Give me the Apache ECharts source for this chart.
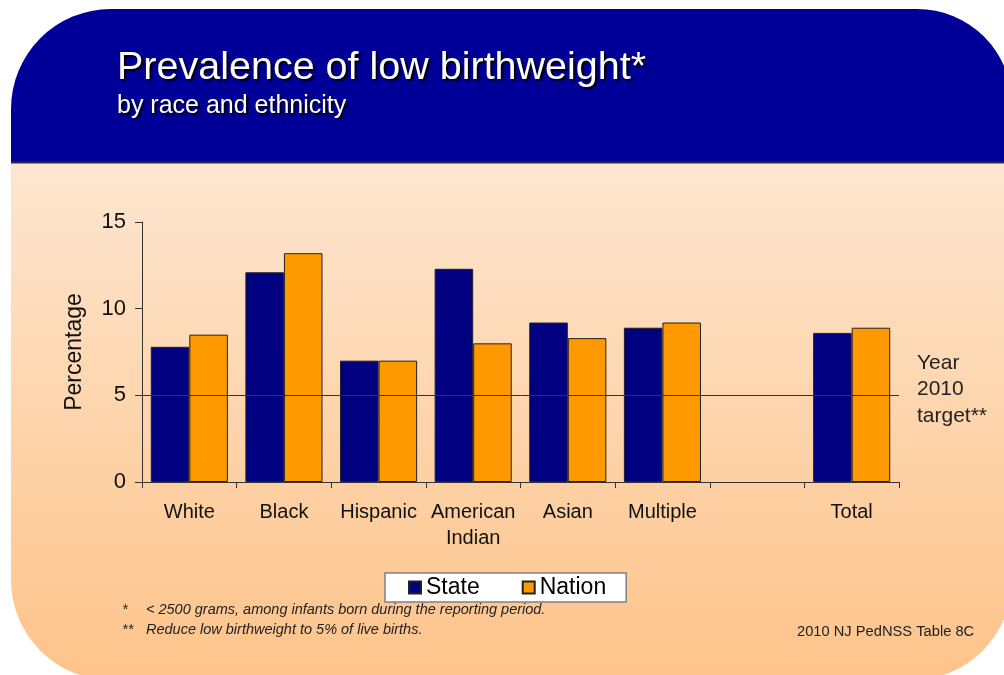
<!DOCTYPE html>
<html>
<head>
<meta charset="utf-8">
<script src="https://cdn.jsdelivr.net/npm/echarts@6/dist/echarts.min.js"></script>
<style>
  html, body { margin: 0; padding: 0; background: #ffffff; }
  #chart { width: 1004px; height: 675px; }
</style>
</head>
<body>
<div id="chart"></div>
<script>
// Low birthweight prevalence (%), by race and ethnicity
const categories = ['White', 'Black', 'Hispanic', 'American\nIndian', 'Asian', 'Multiple', '', 'Total'];
const stateValues = [7.8, 12.1, 7.0, 12.3, 9.2, 8.9, null, 8.6];
const nationValues = [8.5, 13.2, 7.0, 8.0, 8.3, 9.2, null, 8.9];
const targetValue = 5;
const yTicks = [0, 5, 10, 15];

const FONT = '"Liberation Sans", Arial, sans-serif';
const chart = echarts.init(document.getElementById('chart'), null, { renderer: 'canvas' });

chart.setOption({
  backgroundColor: '#ffffff',
  animation: false,
  textStyle: { fontFamily: FONT },
  graphic: [
    // slide body with warm gradient
    {
      type: 'rect', z: -10,
      shape: { x: 11, y: 9, width: 1001, height: 671, r: [100, 95, 100, 100] },
      style: {
        fill: new echarts.graphic.LinearGradient(0, 0, 0, 1, [
          { offset: 0, color: '#fde8d6' },
          { offset: 0.24, color: '#fde6d0' },
          { offset: 0.6, color: '#fdd5ad' },
          { offset: 1, color: '#fec38a' }
        ])
      }
    },
    // header band
    {
      type: 'rect', z: -9,
      shape: { x: 11, y: 9, width: 1001, height: 153, r: [100, 95, 0, 0] },
      style: { fill: '#000099' }
    },
    {
      type: 'line', z: -8,
      shape: { x1: 11, y1: 162.5, x2: 1004, y2: 162.5 },
      style: { stroke: '#2a2a50', lineWidth: 2 }
    },
    // footnotes
    {
      type: 'text', left: 122, top: 602,
      style: { text: '*', font: 'italic 14.5px ' + FONT, fill: '#222' }
    },
    {
      type: 'text', left: 146, top: 602,
      style: { text: '< 2500 grams, among infants born during the reporting period.', font: 'italic 14.5px ' + FONT, fill: '#222' }
    },
    {
      type: 'text', left: 122, top: 622,
      style: { text: '**', font: 'italic 14.5px ' + FONT, fill: '#222' }
    },
    {
      type: 'text', left: 146, top: 622,
      style: { text: 'Reduce low birthweight to 5% of live births.', font: 'italic 14.5px ' + FONT, fill: '#222' }
    },
    {
      type: 'text', left: 797, top: 624,
      style: { text: '2010 NJ PedNSS Table 8C', font: '14.7px ' + FONT, fill: '#222' }
    }
  ],
  title: {
    text: 'Prevalence of low birthweight*',
    subtext: 'by race and ethnicity',
    left: 112, top: 43,
    itemGap: 6,
    textStyle: {
      color: '#ffffff', fontSize: 39.5, fontWeight: 'normal', fontFamily: FONT,
      textShadowColor: '#000000', textShadowOffsetX: 2, textShadowOffsetY: 2, textShadowBlur: 2
    },
    subtextStyle: {
      color: '#ffffff', fontSize: 25, fontFamily: FONT,
      textShadowColor: '#000000', textShadowOffsetX: 2, textShadowOffsetY: 2, textShadowBlur: 2
    }
  },
  legend: {
    left: 385, top: 573,
    padding: [3, 20, 3, 23],
    itemGap: 42,
    itemWidth: 12, itemHeight: 12,
    icon: 'rect',
    backgroundColor: '#ffffff',
    borderColor: '#808080', borderWidth: 1.5,
    textStyle: { fontSize: 23, color: '#000', fontFamily: FONT },
    data: ['State', 'Nation']
  },
  grid: { left: 142, right: 105, top: 222, bottom: 193, containLabel: false },
  xAxis: {
    type: 'category',
    data: categories,
    axisLine: { lineStyle: { color: '#333', width: 1 } },
    axisTick: { show: true, length: 6, lineStyle: { color: '#333' } },
    axisLabel: { fontSize: 20, color: '#111', margin: 17, lineHeight: 26, interval: 0, fontFamily: FONT }
  },
  yAxis: {
    type: 'value',
    min: yTicks[0], max: yTicks[yTicks.length - 1], interval: 5,
    name: 'Percentage',
    nameLocation: 'middle',
    nameGap: 56,
    nameTextStyle: { fontSize: 23, color: '#111', fontFamily: FONT },
    splitLine: { show: false },
    axisLine: { show: true, lineStyle: { color: '#333', width: 1 } },
    axisTick: { show: true, length: 7, lineStyle: { color: '#333' } },
    axisLabel: { fontSize: 22, color: '#111', margin: 16, fontFamily: FONT }
  },
  series: [
    {
      name: 'State', type: 'bar', data: stateValues,
      barGap: '0%', barCategoryGap: '18.5%',
      itemStyle: { color: '#000080', borderColor: '#222', borderWidth: 1 },
      markLine: {
        silent: true, symbol: 'none',
        lineStyle: { color: '#333', width: 1, type: 'solid' },
        label: {
          show: true, position: 'end', distance: 18,
          formatter: 'Year\n2010\ntarget**',
          fontSize: 21, lineHeight: 26.5, color: '#222', fontFamily: FONT,
          align: 'left', offset: [0, -6]
        },
        data: [{ yAxis: targetValue }]
      }
    },
    {
      name: 'Nation', type: 'bar', data: nationValues,
      barGap: '0%', barCategoryGap: '18.5%',
      itemStyle: { color: '#ff9900', borderColor: '#222', borderWidth: 1 }
    }
  ]
});
</script>
</body>
</html>
